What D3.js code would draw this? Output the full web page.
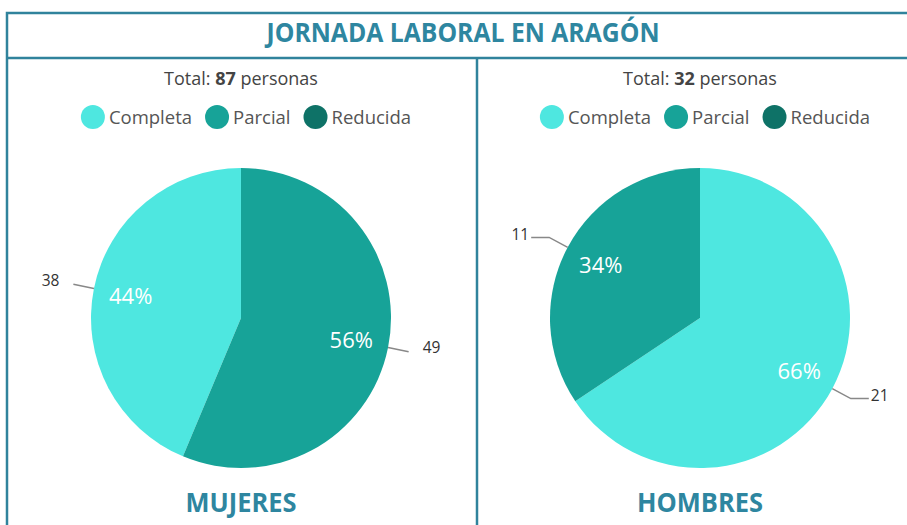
<!DOCTYPE html>
<html>
<head>
<meta charset="utf-8">
<script src="https://cdn.jsdelivr.net/npm/d3@7"></script>
<style>
  body { margin: 0; background: #fff; }
  svg { display: block; }
</style>
</head>
<body>
<div id="chart"></div>
<script>
// data
const categories = ['Completa', 'Parcial', 'Reducida'];
const colors = ['#4ee7e0', '#17a398', '#0e7267'];
const groups = ['MUJERES', 'HOMBRES'];
const mujeresValues = [38, 49, 0];
const hombresValues = [21, 11, 0];
const totals = [87, 32];
const mainTitle = 'JORNADA LABORAL EN ARAGÓN';

const width = 907, height = 525;
const borderColor = '#30839c';
const titleColor = '#2e86a0';
const titleFont = '"Open Sans", sans-serif';
const bodyFont = '"Open Sans", "Noto Sans", sans-serif';

const svg = d3.select('#chart').append('svg')
    .attr('width', width)
    .attr('height', height);

// frame
const frame = svg.append('g').attr('fill', 'none').attr('stroke', borderColor).attr('stroke-width', 2.5);
frame.append('path').attr('d', `M7,${height} V13 H${width}`);
frame.append('line').attr('x1', 7).attr('x2', width).attr('y1', 58).attr('y2', 58);
frame.append('line').attr('x1', 477).attr('x2', 477).attr('y1', 58).attr('y2', height);

// condensed look: squeeze the bold titles to the reference width
svg.append('text')
    .attr('x', 463).attr('y', 42)
    .attr('text-anchor', 'middle')
    .attr('font-family', titleFont)
    .attr('font-weight', 'bold')
    .attr('font-size', 27)
    .attr('textLength', 393)
    .attr('lengthAdjust', 'spacingAndGlyphs')
    .attr('fill', titleColor)
    .text(mainTitle);

const panels = [
    { cx: 241, values: mujeresValues, total: totals[0], name: groups[0], nameLen: 111, tail: 0 },
    { cx: 700, values: hombresValues, total: totals[1], name: groups[1], nameLen: 126, tail: 18 }
];

const radius = 150;
const cy = 318;
const pie = d3.pie().value(d => d.value);   // default sort: biggest first
const arc = d3.arc().innerRadius(0).outerRadius(radius);
const labelArc = d3.arc().innerRadius(radius * 0.75).outerRadius(radius * 0.75);

panels.forEach(p => {
    const g = svg.append('g');

    // total line
    const tot = g.append('text')
        .attr('x', p.cx).attr('y', 85)
        .attr('text-anchor', 'middle')
        .attr('font-family', bodyFont)
        .attr('font-size', 18)
        .attr('fill', '#444');
    tot.append('tspan').text('Total: ');
    tot.append('tspan').attr('font-weight', 'bold').text(p.total);
    tot.append('tspan').text(' personas');

    // legend
    const legend = g.append('g');
    let x = 0;
    categories.forEach((c, i) => {
        const item = legend.append('g').attr('transform', `translate(${x},0)`);
        item.append('circle').attr('cx', 12).attr('cy', 0).attr('r', 12).attr('fill', colors[i]);
        const t = item.append('text')
            .attr('x', 28).attr('y', 6.5)
            .attr('font-family', bodyFont)
            .attr('font-size', 18.5)
            .attr('fill', '#555')
            .text(c);
        x += 28 + t.node().getComputedTextLength() + 13;
    });
    const lw = x - 13;
    legend.attr('transform', `translate(${p.cx + 5 - lw / 2},117)`);

    // pie
    const data = categories.map((c, i) => ({ name: c, value: p.values[i], color: colors[i] }))
        .filter(d => d.value > 0);
    const arcs = pie(data);
    const total = d3.sum(data, d => d.value);
    const pg = g.append('g').attr('transform', `translate(${p.cx},${cy})`);

    pg.selectAll('path.slice')
        .data(arcs)
        .join('path')
        .attr('class', 'slice')
        .attr('d', arc)
        .attr('fill', d => d.data.color);

    pg.selectAll('text.pct')
        .data(arcs)
        .join('text')
        .attr('class', 'pct')
        .attr('transform', d => `translate(${labelArc.centroid(d)})`)
        .attr('text-anchor', 'middle')
        .attr('dy', '0.35em')
        .attr('font-family', bodyFont)
        .attr('font-size', 22)
        .attr('fill', '#fff')
        .text(d => Math.round(d.value / total * 100) + '%');

    // leader lines + values
    arcs.forEach(d => {
        const a = (d.startAngle + d.endAngle) / 2;
        const sx = Math.sin(a), sy = -Math.cos(a);
        const side = sx < 0 ? -1 : 1;
        const p0 = [sx * radius, sy * radius];
        const p1 = [sx * (radius + 21), sy * (radius + 21)];
        const p2 = [p1[0] + side * p.tail, p1[1]];
        pg.append('polyline')
            .attr('points', [p0, p1, p2].map(q => q.join(',')).join(' '))
            .attr('fill', 'none')
            .attr('stroke', '#888')
            .attr('stroke-width', 1.5);
        pg.append('text')
            .attr('x', p2[0] + side * (p.tail ? 2 : 14))
            .attr('y', p2[1] - (p.tail ? 3 : 4))
            .attr('dy', '0.35em')
            .attr('text-anchor', side < 0 ? 'end' : 'start')
            .attr('font-family', bodyFont)
            .attr('font-size', 15.5)
            .attr('fill', '#333')
            .text(d.value);
    });

    // group name
    g.append('text')
        .attr('x', p.cx).attr('y', 512)
        .attr('text-anchor', 'middle')
        .attr('font-family', titleFont)
        .attr('font-weight', 'bold')
        .attr('font-size', 27)
        .attr('textLength', p.nameLen)
        .attr('lengthAdjust', 'spacingAndGlyphs')
        .attr('fill', titleColor)
        .text(p.name);
});
</script>
</body>
</html>
